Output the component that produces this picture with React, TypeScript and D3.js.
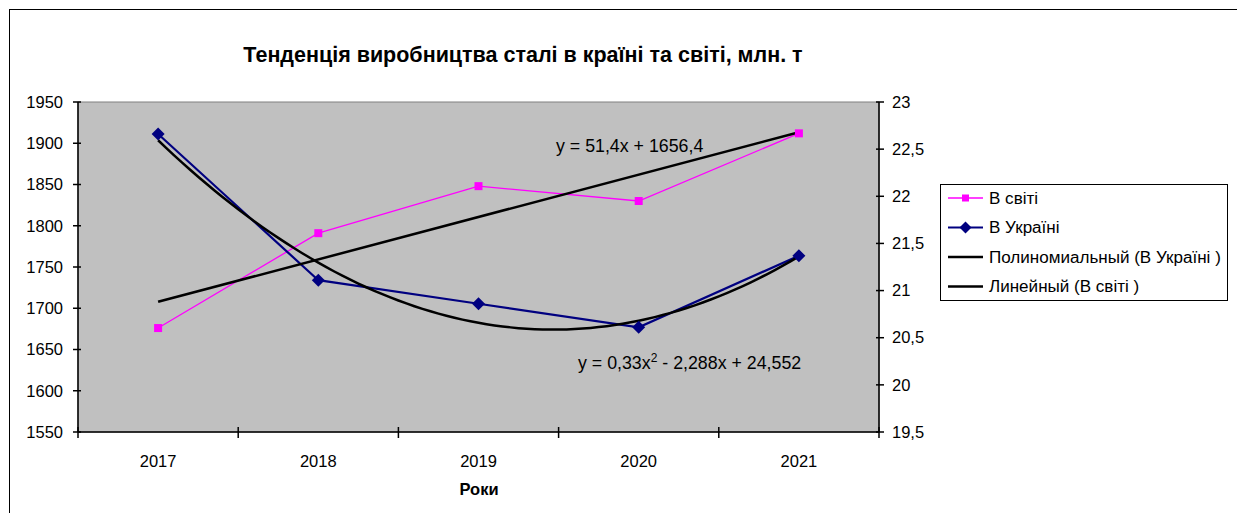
import { useEffect, useRef } from 'react';
import * as d3 from 'd3';

const years = ['2017', '2018', '2019', '2020', '2021'];
const worldValues = [1676, 1791, 1848, 1830, 1912];
const ukraineValues = [22.66, 21.11, 20.86, 20.61, 21.37];
const leftTicks = [1550, 1600, 1650, 1700, 1750, 1800, 1850, 1900, 1950];
const rightTicks = [19.5, 20, 20.5, 21, 21.5, 22, 22.5, 23];
// trendline coefficients as shown on the chart
const linearCoef = [51.4, 1656.4];
const polyCoef = [0.33, -2.288, 24.552];

export default function App() {
    const svgRef = useRef<SVGSVGElement>(null);

    useEffect(() => {
        const width = 1237;
        const height = 513;
        const font = 'Arial, "Liberation Sans", sans-serif';
        const tickSize = '16.5px';

        const svg = d3.select(svgRef.current);
        svg.selectAll('*').remove();

        // outer chart border
        svg.append('rect')
            .attr('x', 9.5).attr('y', 9.5)
            .attr('width', 1260).attr('height', 540)
            .attr('fill', 'white')
            .attr('stroke', 'black')
            .attr('stroke-width', 1);

        const plot = { left: 78, right: 879, top: 102, bottom: 432 };

        const x = d3.scaleBand().domain(years).range([plot.left, plot.right]);
        const yL = d3.scaleLinear().domain([1550, 1950]).range([plot.bottom, plot.top]);
        const yR = d3.scaleLinear().domain([19.5, 23]).range([plot.bottom, plot.top]);
        const cx = (i: number) => x(years[i])! + x.bandwidth() / 2;

        // plot background
        svg.append('rect')
            .attr('x', plot.left).attr('y', plot.top)
            .attr('width', plot.right - plot.left).attr('height', plot.bottom - plot.top)
            .attr('fill', '#c0c0c0')
            .attr('stroke', '#808080')
            .attr('stroke-width', 1);

        // title
        svg.append('text')
            .attr('x', 523).attr('y', 62)
            .attr('text-anchor', 'middle')
            .style('font-family', font)
            .style('font-size', '21.5px')
            .style('font-weight', 'bold')
            .text('Тенденція виробництва сталі в країні та світі, млн. т');

        // axes lines
        const axisG = svg.append('g').attr('stroke', 'black').attr('stroke-width', 1.5);
        axisG.append('line').attr('x1', plot.left).attr('x2', plot.left).attr('y1', plot.top).attr('y2', plot.bottom);
        axisG.append('line').attr('x1', plot.right).attr('x2', plot.right).attr('y1', plot.top).attr('y2', plot.bottom);
        axisG.append('line').attr('x1', plot.left).attr('x2', plot.right).attr('y1', plot.bottom).attr('y2', plot.bottom);

        // left ticks
        leftTicks.forEach((t) => {
            axisG.append('line').attr('x1', plot.left - 5).attr('x2', plot.left + 3).attr('y1', yL(t)).attr('y2', yL(t));
            svg.append('text')
                .attr('x', plot.left - 15).attr('y', yL(t)).attr('dy', '0.35em')
                .attr('text-anchor', 'end')
                .style('font-family', font).style('font-size', tickSize)
                .text(String(t));
        });

        // right ticks
        rightTicks.forEach((t) => {
            axisG.append('line').attr('x1', plot.right - 3).attr('x2', plot.right + 5).attr('y1', yR(t)).attr('y2', yR(t));
            svg.append('text')
                .attr('x', plot.right + 13).attr('y', yR(t)).attr('dy', '0.35em')
                .style('font-family', font).style('font-size', tickSize)
                .text(String(t).replace('.', ','));
        });

        // bottom ticks at category boundaries
        const bounds = years.map((y) => x(y)!).concat([plot.right]);
        bounds.forEach((b) => {
            axisG.append('line').attr('x1', b).attr('x2', b).attr('y1', plot.bottom - 5).attr('y2', plot.bottom + 6);
        });
        years.forEach((y, i) => {
            svg.append('text')
                .attr('x', cx(i)).attr('y', 467)
                .attr('text-anchor', 'middle')
                .style('font-family', font).style('font-size', tickSize)
                .text(y);
        });

        svg.append('text')
            .attr('x', 479).attr('y', 495)
            .attr('text-anchor', 'middle')
            .style('font-family', font).style('font-size', tickSize).style('font-weight', 'bold')
            .text('Роки');

        const line = d3.line<[number, number]>().x((d) => d[0]).y((d) => d[1]);

        // world series
        const worldPts: [number, number][] = worldValues.map((v, i) => [cx(i), yL(v)]);
        svg.append('path').attr('d', line(worldPts)).attr('fill', 'none')
            .attr('stroke', '#ff00ff').attr('stroke-width', 1.3);

        // ukraine series
        const ukrPts: [number, number][] = ukraineValues.map((v, i) => [cx(i), yR(v)]);
        svg.append('path').attr('d', line(ukrPts)).attr('fill', 'none')
            .attr('stroke', '#000080').attr('stroke-width', 2.2);

        // polynomial trend (Ukraine)
        const polyPts: [number, number][] = d3.range(1, 5.001, 0.05).map((t) => {
            const v = polyCoef[0] * t * t + polyCoef[1] * t + polyCoef[2];
            return [cx(0) + (t - 1) * x.bandwidth(), yR(v)];
        });
        svg.append('path').attr('d', line(polyPts)).attr('fill', 'none')
            .attr('stroke', 'black').attr('stroke-width', 2.5);

        // linear trend (world)
        const linPts: [number, number][] = [1, 5].map((t) => [cx(0) + (t - 1) * x.bandwidth(), yL(linearCoef[0] * t + linearCoef[1])]);
        svg.append('path').attr('d', line(linPts)).attr('fill', 'none')
            .attr('stroke', 'black').attr('stroke-width', 2.5);

        // markers
        worldPts.forEach(([px, py]) => {
            svg.append('rect').attr('x', px - 4).attr('y', py - 4).attr('width', 8).attr('height', 8).attr('fill', '#ff00ff');
        });
        ukrPts.forEach(([px, py]) => {
            svg.append('path').attr('d', `M${px},${py - 6.5}L${px + 6.5},${py}L${px},${py + 6.5}L${px - 6.5},${py}Z`).attr('fill', '#000080');
        });

        // equation labels
        svg.append('text')
            .attr('x', 556).attr('y', 152)
            .style('font-family', font).style('font-size', '17.8px')
            .text('y = 51,4x + 1656,4');
        const eq = svg.append('text')
            .attr('x', 578).attr('y', 369)
            .style('font-family', font).style('font-size', '17.8px');
        eq.append('tspan').text('y = 0,33x');
        eq.append('tspan').attr('dy', -7).style('font-size', '12px').text('2');
        eq.append('tspan').attr('dy', 7).text(' - 2,288x + 24,552');

        // legend
        const lg = svg.append('g');
        lg.append('rect').attr('x', 940.5).attr('y', 184.5).attr('width', 287).attr('height', 116)
            .attr('fill', 'white').attr('stroke', 'black').attr('stroke-width', 1);
        const items = [
            { label: 'В світі', color: '#ff00ff', w: 1.3, marker: 'square' },
            { label: 'В Україні', color: '#000080', w: 2.2, marker: 'diamond' },
            { label: 'Полиномиальный (В Україні )', color: 'black', w: 2.5, marker: '' },
            { label: 'Линейный (В світі )', color: 'black', w: 2.5, marker: '' },
        ];
        const labels = items.map((it, i) => {
            const yy = 198 + i * 29.5;
            lg.append('line').attr('x1', 948).attr('x2', 983).attr('y1', yy).attr('y2', yy)
                .attr('stroke', it.color).attr('stroke-width', it.w);
            if (it.marker === 'square') {
                lg.append('rect').attr('x', 962).attr('y', yy - 3.5).attr('width', 7).attr('height', 7).attr('fill', it.color);
            } else if (it.marker === 'diamond') {
                lg.append('path').attr('d', `M965.5,${yy - 6}L971.5,${yy}L965.5,${yy + 6}L959.5,${yy}Z`).attr('fill', it.color);
            }
            return lg.append('text').attr('x', 989).attr('y', yy).attr('dy', '0.35em')
                .style('font-family', font).style('font-size', '16px')
                .text(it.label);
        });
        // fit the longest label into the box the way the reference does
        const longest = (labels[2].node() as SVGTextElement).getComputedTextLength();
        const legendSize = Math.min(18, 16 * 232 / longest);
        labels.forEach((l) => l.style('font-size', `${legendSize}px`));

        svg.attr('width', width).attr('height', height);
    }, []);

    return (
        <svg ref={svgRef} width={1237} height={513} style={{ position: 'absolute', left: 0, top: 0, background: 'white' }} />
    );
}
